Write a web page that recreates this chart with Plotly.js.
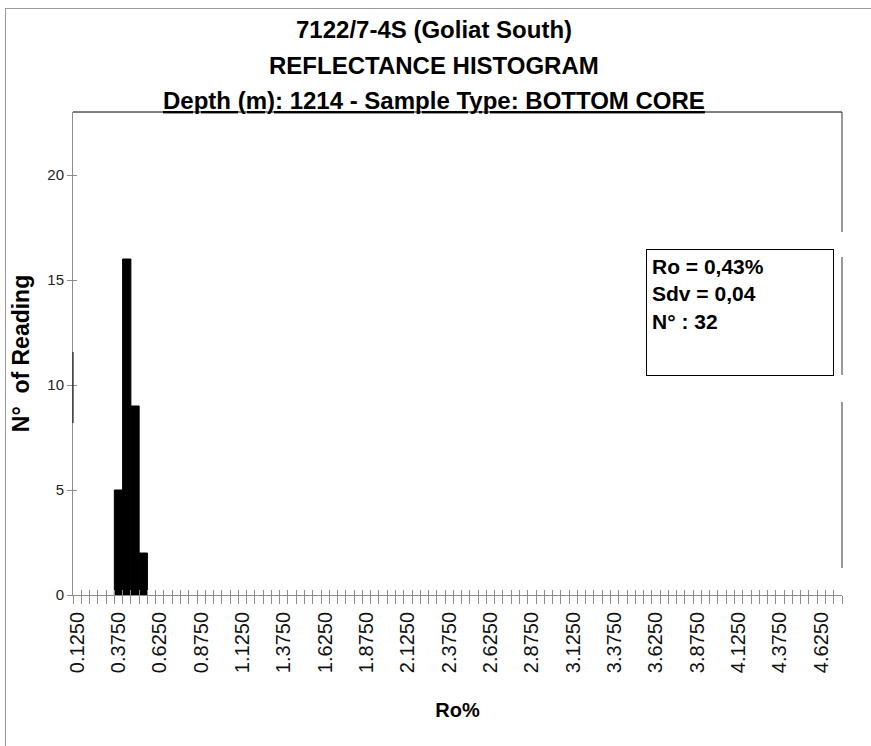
<!DOCTYPE html>
<html>
<head>
<meta charset="utf-8">
<script src="https://cdn.plot.ly/plotly-3.0.1.min.js"></script>
<style>
  html, body { margin: 0; padding: 0; background: #fff; }
  #wrap { position: relative; width: 871px; height: 746px; overflow: hidden; }
  #chart { width: 871px; height: 746px; }
  #frame { position: absolute; left: 5px; top: 8px; width: 900px; height: 800px;
           border-left: 1px solid #9a9a9a; border-top: 1px solid #9a9a9a; pointer-events: none; }
</style>
</head>
<body>
<div id="wrap">
  <div id="chart"></div>
  <div id="frame"></div>
</div>
<script>
// Reflectance bins (Ro %), one category per 0.05 step
const categories = [
  "0.1250","0.1750","0.2250","0.2750","0.3250","0.3750","0.4250","0.4750","0.5250","0.5750",
  "0.6250","0.6750","0.7250","0.7750","0.8250","0.8750","0.9250","0.9750","1.0250","1.0750",
  "1.1250","1.1750","1.2250","1.2750","1.3250","1.3750","1.4250","1.4750","1.5250","1.5750",
  "1.6250","1.6750","1.7250","1.7750","1.8250","1.8750","1.9250","1.9750","2.0250","2.0750",
  "2.1250","2.1750","2.2250","2.2750","2.3250","2.3750","2.4250","2.4750","2.5250","2.5750",
  "2.6250","2.6750","2.7250","2.7750","2.8250","2.8750","2.9250","2.9750","3.0250","3.0750",
  "3.1250","3.1750","3.2250","3.2750","3.3250","3.3750","3.4250","3.4750","3.5250","3.5750",
  "3.6250","3.6750","3.7250","3.7750","3.8250","3.8750","3.9250","3.9750","4.0250","4.0750",
  "4.1250","4.1750","4.2250","4.2750","4.3250","4.3750","4.4250","4.4750","4.5250","4.5750",
  "4.6250","4.6750","4.7250"
];

// Labelled bins on the Ro% axis
const tickLabels = [
  "0.1250","0.3750","0.6250","0.8750","1.1250","1.3750","1.6250","1.8750","2.1250","2.3750",
  "2.6250","2.8750","3.1250","3.3750","3.6250","3.8750","4.1250","4.3750","4.6250"
];

// Bins holding readings and their counts
const readingBins = ["0.3750", "0.4250", "0.4750", "0.5250"];
const readingCounts = [5, 16, 9, 2];

// Y axis
const yTicks = [0, 5, 10, 15, 20];
const yMax = 23;

// Summary statistics
const statLines = ["Ro = 0,43%", "Sdv = 0,04", "N° : 32"];

// Title lines
const titleLines = [
  "7122/7-4S (Goliat South)",
  "REFLECTANCE HISTOGRAM",
  "Depth (m): 1214 - Sample Type: BOTTOM CORE"
];

const FONT = "Liberation Sans, Arial, Helvetica, sans-serif";
const AXIS_GRAY = "#8c8c8c";
const xRange = [-0.5, categories.length - 0.5];

const traces = [
  {
    type: "bar",
    x: readingBins,
    y: readingCounts,
    marker: { color: "#000", line: { color: "#000", width: 1 } },
    hoverinfo: "x+y",
    showlegend: false
  },
  // empty helpers so the tick-only overlay axes get drawn
  { type: "scatter", x: [], y: [], xaxis: "x2", yaxis: "y", showlegend: false, hoverinfo: "skip" },
  { type: "scatter", x: [], y: [], xaxis: "x3", yaxis: "y", showlegend: false, hoverinfo: "skip" },
  { type: "scatter", x: [], y: [], xaxis: "x", yaxis: "y2", showlegend: false, hoverinfo: "skip" }
];

const tickOnly = {
  showticklabels: false, showgrid: false, zeroline: false, showline: false,
  tickcolor: AXIS_GRAY, tickwidth: 1
};

const layout = {
  width: 871,
  height: 746,
  margin: { l: 73, r: 29, t: 112, b: 151 },
  paper_bgcolor: "rgba(0,0,0,0)",
  plot_bgcolor: "#fff",
  font: { family: FONT, color: "#000" },
  bargap: 0,
  showlegend: false,
  xaxis: {
    type: "category",
    categoryorder: "array",
    categoryarray: categories,
    range: xRange,
    tickmode: "array",
    tickvals: tickLabels,
    ticktext: tickLabels,
    tickangle: -90,
    ticks: "",
    ticklabelstandoff: 8,
    tickfont: { family: FONT, size: 20, color: "#111" },
    showline: true, linecolor: AXIS_GRAY, linewidth: 1,
    showgrid: false, zeroline: false,
    title: { text: "Ro%", font: { family: FONT, size: 20, weight: "bold" }, standoff: 30 }
  },
  xaxis2: Object.assign({
    overlaying: "x", anchor: "y", side: "bottom", range: xRange,
    tickmode: "linear", tick0: -0.5, dtick: 1, ticks: "outside", ticklen: 8
  }, tickOnly),
  xaxis3: Object.assign({
    overlaying: "x", anchor: "y", side: "bottom", range: xRange,
    tickmode: "linear", tick0: -0.5, dtick: 1, ticks: "inside", ticklen: 5
  }, tickOnly),
  yaxis: {
    range: [0, yMax],
    tickmode: "array",
    tickvals: yTicks,
    ticks: "outside", ticklen: 5, tickcolor: AXIS_GRAY,
    tickfont: { family: FONT, size: 15, color: "#222" },
    showline: true, linecolor: AXIS_GRAY, linewidth: 1,
    showgrid: false, zeroline: false,
    title: { text: "N°  of Reading", font: { family: FONT, size: 23, weight: "bold" }, standoff: 11 }
  },
  yaxis2: Object.assign({
    overlaying: "y", anchor: "x", side: "left", range: [0, yMax],
    tickmode: "array", tickvals: yTicks, ticks: "inside", ticklen: 4
  }, tickOnly),
  shapes: [
    // plot frame: top edge and broken right edge
    { type: "line", xref: "paper", yref: "paper", x0: 0, x1: 1, y0: 1, y1: 1, line: { color: "#000", width: 1 } },
    { type: "line", xref: "paper", yref: "paper", x0: 1, x1: 1, y0: 1, y1: 0.7516, line: { color: "#333", width: 1 } },
    { type: "line", xref: "paper", yref: "paper", x0: 1, x1: 1, y0: 0.6998, y1: 0.4555, line: { color: "#333", width: 1 } },
    { type: "line", xref: "paper", yref: "paper", x0: 1, x1: 1, y0: 0.3996, y1: 0.0559, line: { color: "#333", width: 1 } },
    { type: "line", xref: "paper", yref: "paper", x0: 0, x1: 0, y0: 0.503, y1: 0.356, line: { color: "#000", width: 1 } }
  ],
  annotations: [
    { xref: "paper", yref: "paper", x: 0.47, y: 1.1698, xanchor: "center", yanchor: "middle",
      showarrow: false, text: titleLines[0], font: { family: FONT, size: 24, weight: "bold" } },
    { xref: "paper", yref: "paper", x: 0.47, y: 1.0973, xanchor: "center", yanchor: "middle",
      showarrow: false, text: titleLines[1], font: { family: FONT, size: 24, weight: "bold" } },
    { xref: "paper", yref: "paper", x: 0.47, y: 1.0228, xanchor: "center", yanchor: "middle",
      showarrow: false, text: "<u>" + titleLines[2] + "</u>", font: { family: FONT, size: 24, weight: "bold" } },
    { xref: "paper", yref: "paper", x: 0.8674, y: 0.5849, xanchor: "center", yanchor: "middle",
      showarrow: false, align: "left", valign: "top", width: 176, height: 115,
      bordercolor: "#000", borderwidth: 1, borderpad: 5, bgcolor: "#fff",
      text: statLines.join("<br>"), font: { family: FONT, size: 21, weight: "bold" } }
  ]
};

Plotly.newPlot("chart", traces, layout, { displayModeBar: false, staticPlot: true });
</script>
</body>
</html>
